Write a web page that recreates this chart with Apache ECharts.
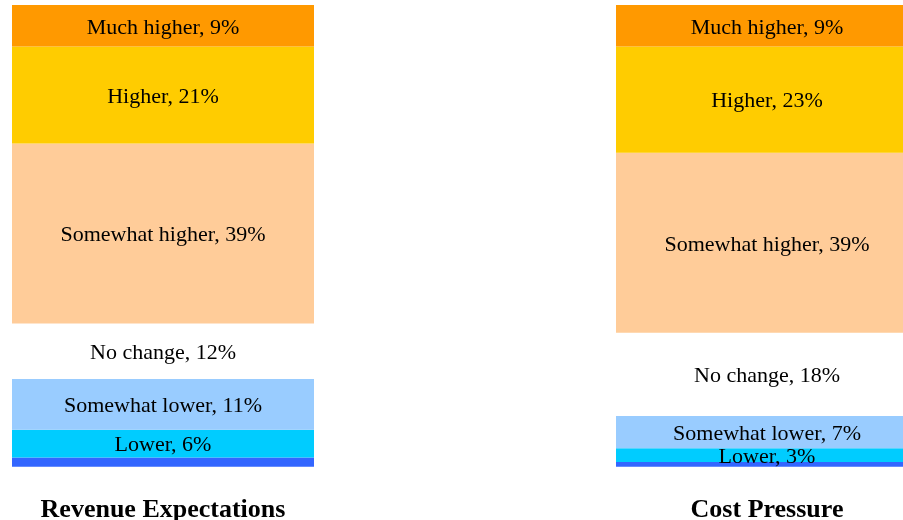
<!DOCTYPE html>
<html>
<head>
<meta charset="utf-8">
<script src="https://cdn.jsdelivr.net/npm/echarts@6/dist/echarts.min.js"></script>
<style>
  html, body { margin: 0; padding: 0; background: #fff; }
  #chart { width: 903px; height: 520px; }
</style>
</head>
<body>
<div id="chart"></div>
<script>
// Survey outlook: share of respondents per answer, stacked per topic
const categories = ['Revenue Expectations', 'Cost Pressure'];
const segmentNames = ['Much lower', 'Lower', 'Somewhat lower', 'No change', 'Somewhat higher', 'Higher', 'Much higher'];
const muchLower = [2, 1];
const lower = [6, 3];
const somewhatLower = [11, 7];
const noChange = [12, 18];
const somewhatHigher = [39, 39];
const higher = [21, 23];
const muchHigher = [9, 9];

const segmentValues = [muchLower, lower, somewhatLower, noChange, somewhatHigher, higher, muchHigher];
const segmentColors = ['#3366FF', '#00CCFF', '#99CCFF', '#FFFFFF', '#FFCC99', '#FFCC00', '#FF9900'];
const serif = '"Liberation Serif", "DejaVu Serif", serif';

const series = segmentNames.map((name, i) => ({
  name: name,
  type: 'bar',
  stack: 'total',
  barWidth: 302,
  clip: false,
  data: segmentValues[i],
  itemStyle: { color: segmentColors[i] },
  label: {
    show: i > 0,
    position: 'inside',
    offset: [0, 2],
    formatter: '{a}, {c}%',
    color: '#000',
    fontFamily: serif,
    fontSize: 22
  },
  emphasis: { disabled: true }
}));

const chart = echarts.init(document.getElementById('chart'));
chart.setOption({
  animation: false,
  // category points sit on the grid edges; the second bar runs past the right edge
  grid: {
    left: 163, right: 136, top: 5, bottom: 53.3,
    containLabel: false,
    outerBoundsMode: 'none'
  },
  xAxis: {
    type: 'category',
    data: categories,
    boundaryGap: false,
    axisLine: { show: false },
    axisTick: { show: false },
    axisLabel: {
      margin: 31,
      color: '#000',
      fontFamily: serif,
      fontWeight: 'bold',
      fontSize: 26
    }
  },
  yAxis: {
    type: 'value',
    min: 0,
    max: 100,
    show: false,
    splitLine: { show: false }
  },
  series: series
});
</script>
</body>
</html>
